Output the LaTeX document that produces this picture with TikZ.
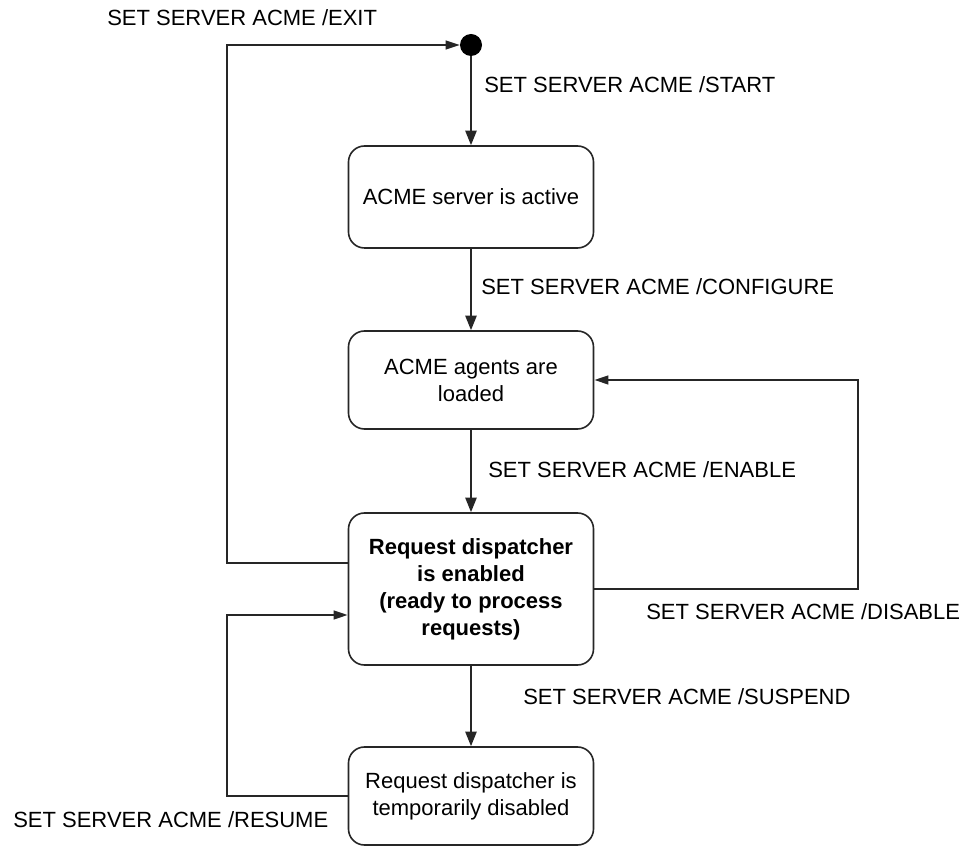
\documentclass[tikz,border=0pt]{standalone}
\usepackage{fontspec}
\setmainfont{Liberation Sans}
\usetikzlibrary{arrows.meta}

\begin{document}
\begin{tikzpicture}[x=0.75pt,y=-0.75pt,
  font=\fontsize{16.5pt}{20.25pt}\selectfont,
  state/.style={draw=black!85, line width=1.2pt, rounded corners=12pt,
    minimum width=183.75pt, align=center, inner sep=0pt},
  flow/.style={draw=black!85, line width=1.4pt},
  vtip/.style={flow, -{Triangle[length=11pt,width=8.5pt]}},
  htip/.style={flow, -{Triangle[length=10.5pt,width=6.5pt]}},
  trans/.style={anchor=west, inner sep=0pt, text=black}]
\useasboundingbox (0,0) rectangle (965,848);

% initial pseudo-state
\node[circle, fill=black, minimum size=16.5pt, inner sep=0pt] (init) at (471,45) {};

% states
\node[state, minimum height=76.5pt] (active) at (471,197) {ACME server is active};
\node[state, minimum height=73.5pt] (loaded) at (471,380) {ACME agents are\\loaded};
\node[state, minimum height=114pt, font=\fontsize{16.5pt}{20.25pt}\selectfont\bfseries]
  (enabled) at (471,589) {Request dispatcher\\is enabled\\(ready to process\\requests)};
\node[state, minimum height=73.5pt] (disabled) at (471,796) {Request dispatcher is\\temporarily disabled};

% bend points of the loops
\coordinate (exitL) at (227,563);
\coordinate (disR) at (858,589);
\coordinate (resL) at (227,796);
\coordinate (resT) at (227,615);

% straight transitions
\draw[vtip] (init) -- (active);
\draw[vtip] (active) -- (loaded);
\draw[vtip] (loaded) -- (enabled);
\draw[vtip] (enabled) -- (disabled);

% loops
\draw[htip] (enabled.west |- exitL) -- (exitL) |- (init);
\draw[htip] (enabled.east |- disR) -- (disR) |- (loaded.east);
\draw[htip] (disabled.west) -- (resL) -- (resT) -- (enabled.west |- resT);

% transition labels
\node[trans] (lexit) at (107,18) {SET SERVER ACME /EXIT};
\node[trans] (lstart) at (484,85) {SET SERVER ACME /START};
\node[trans] (lconf) at (481,287) {SET SERVER ACME /CONFIGURE};
\node[trans] (lenable) at (488,470) {SET SERVER ACME /ENABLE};
\node[trans] (ldisable) at (646,612) {SET SERVER ACME /DISABLE};
\node[trans] (lsuspend) at (523,697) {SET SERVER ACME /SUSPEND};
\node[trans] (lresume) at (13,820) {SET SERVER ACME /RESUME};
\end{tikzpicture}
\end{document}
